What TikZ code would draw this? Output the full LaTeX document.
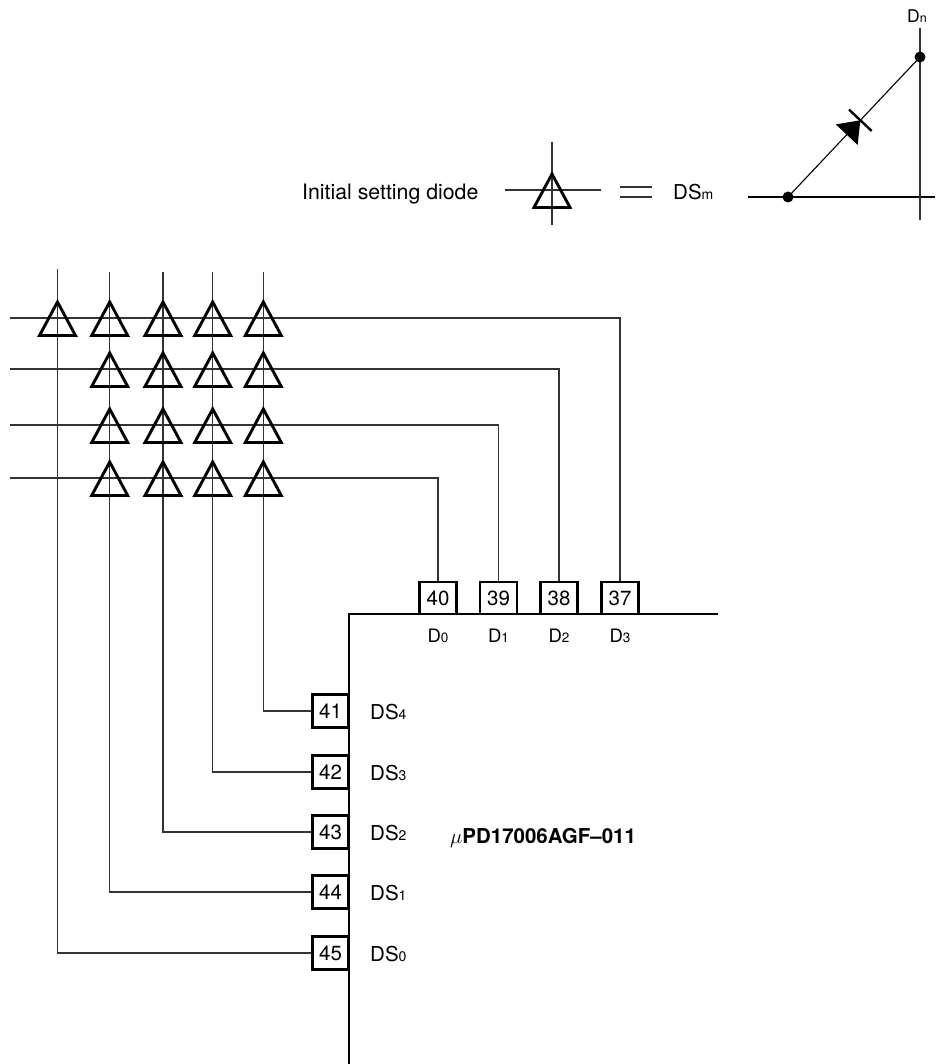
\documentclass[tikz,border=0pt]{standalone}
\usepackage{fontspec}
\setmainfont{TeX Gyre Heros}
\usetikzlibrary{calc}
\newcommand{\subtxt}[2]{{\fontsize{#1}{#1}\selectfont #2}}
\begin{document}
\begin{tikzpicture}[x=1pt,y=-1pt,
  thinline/.style={line width=1.3pt, draw=black!80},
  thickline/.style={line width=2.9pt, draw=black},
  pinbox/.style={draw=black, line width=2.9pt, minimum width=37pt, minimum height=32pt, inner sep=0pt, font=\fontsize{20.5}{24}\selectfont},
  lbl/.style={inner sep=0pt, font=\fontsize{20.5}{24}\selectfont},
  dlbl/.style={inner sep=0pt, font=\fontsize{18.5}{22}\selectfont},
  tri/.pic={\draw[line width=2.9pt, line join=miter] (0,-16) -- (18,17.5) -- (-18,17.5) -- cycle;},
  dotnode/.style={circle, fill=black, minimum size=11pt, inner sep=0pt}
]
\useasboundingbox (0,0) rectangle (935,1064);

% ---------- legend ----------
\node[lbl, font=\fontsize{21.3}{24}\selectfont, anchor=base west] (legtxt) at (302,200) {Initial setting diode};
\coordinate (lh1) at (505,190);
\coordinate (lh2) at (601,190);
\coordinate (lv1) at (552,142);
\coordinate (lv2) at (552,225);
\draw[thinline] (lh1) -- (lh2);
\draw[thinline] (lv1) -- (lv2);
\pic at (552,190) {tri};
\coordinate (eqa1) at (620,187); \coordinate (eqa2) at (652,187);
\coordinate (eqb1) at (620,197); \coordinate (eqb2) at (652,197);
\draw[thinline] (eqa1) -- (eqa2);
\draw[thinline] (eqb1) -- (eqb2);
\node[lbl, anchor=base west] (dsm) at (673,200) {DS\subtxt{14}{m}};

% right schematic
\coordinate (rh1) at (748,197);
\coordinate (rh2) at (935,197);
\coordinate (rv1) at (920,28);
\coordinate (rv2) at (920,220);
\draw[thinline, draw=black] (rh1) -- (rh2);
\draw[thinline] (rv1) -- (rv2);
\node[dotnode] (dA) at (788,197) {};
\node[dotnode] (dB) at (920,57) {};
\draw[thinline, draw=black, line width=1.1pt] (dA.center) -- (dB.center);
\coordinate (dbase) at ($(dA.center)!0.445!(dB.center)$);
\coordinate (dtip) at ($(dA.center)!0.548!(dB.center)$);
\fill[black] ($(dbase)!15pt!90:(dB.center)$) -- ($(dbase)!15pt!-90:(dB.center)$) -- (dtip) -- cycle;
\draw[line width=2.4pt] ($(dtip)!15.5pt!90:(dB.center)$) -- ($(dtip)!15.5pt!-90:(dB.center)$);
\node[dlbl, font=\fontsize{17.5}{20}\selectfont, anchor=base west] (dn) at (907,23) {D\subtxt{12.5}{n}};

% ---------- chip ----------
\draw[thickline] (718,614) -- (349,614) -- (349,1064);
\node[lbl, font=\fontsize{20.5}{24}\selectfont\bfseries, anchor=base west] (chip) at (450,843) {$\mu$PD17006AGF--011};

% top pins
\node[pinbox] (p40) at (438,598) {40};
\node[pinbox] (p39) at (498.5,598) {39};
\node[pinbox] (p38) at (559,598) {38};
\node[pinbox] (p37) at (620,598) {37};
\node[dlbl, anchor=base] (l40) at (438,642) {D\subtxt{13.5}{0}};
\node[dlbl, anchor=base] (l39) at (498.5,642) {D\subtxt{13.5}{1}};
\node[dlbl, anchor=base] (l38) at (559,642) {D\subtxt{13.5}{2}};
\node[dlbl, anchor=base] (l37) at (620,642) {D\subtxt{13.5}{3}};

% left pins
\node[pinbox, minimum width=36.5pt, minimum height=32.5pt] (p41) at (330.5,711) {41};
\node[pinbox, minimum width=36.5pt, minimum height=32.5pt] (p42) at (330.5,772) {42};
\node[pinbox, minimum width=36.5pt, minimum height=32.5pt] (p43) at (330.5,832) {43};
\node[pinbox, minimum width=36.5pt, minimum height=32.5pt] (p44) at (330.5,892) {44};
\node[pinbox, minimum width=36.5pt, minimum height=32.5pt] (p45) at (330.5,953) {45};
\node[lbl, anchor=base west] (l41) at (370,719) {DS\subtxt{14}{4}};
\node[lbl, anchor=base west] (l42) at (370,780) {DS\subtxt{14}{3}};
\node[lbl, anchor=base west] (l43) at (370,840) {DS\subtxt{14}{2}};
\node[lbl, anchor=base west] (l44) at (370,900) {DS\subtxt{14}{1}};
\node[lbl, anchor=base west] (l45) at (370,961) {DS\subtxt{14}{0}};

% ---------- diode matrix ----------
\coordinate (c1) at (57.5,269);
\coordinate (c2) at (109.7,272);
\coordinate (c3) at (163,272);
\coordinate (c4) at (212.7,272);
\coordinate (c5) at (263.3,272);
\coordinate (r1) at (10,318);
\coordinate (r2) at (10,369);
\coordinate (r3) at (10,425);
\coordinate (r4) at (10,478);

\draw[thinline] (r1) -| (p37.north);
\draw[thinline] (r2) -| (p38.north);
\draw[thinline] (r3) -| (p39.north);
\draw[thinline] (r4) -| (p40.north);

\draw[thinline] (c5) |- (p41.west);
\draw[thinline] (c4) |- (p42.west);
\draw[thinline] (c3) |- (p43.west);
\draw[thinline] (c2) |- (p44.west);
\draw[thinline] (c1) |- (p45.west);

\foreach \x in {57.5,109.7,163,212.7,263.3} {\pic at (\x,318) {tri};}
\foreach \y in {369,425,478} {
  \foreach \x in {109.7,163,212.7,263.3} {\pic at (\x,\y) {tri};}
}
\end{tikzpicture}
\end{document}
